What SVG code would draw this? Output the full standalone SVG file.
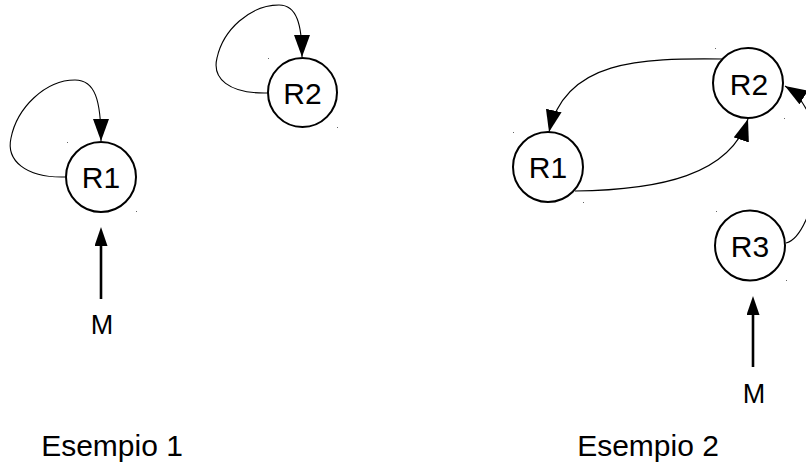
<svg xmlns="http://www.w3.org/2000/svg" width="806" height="465" viewBox="0 0 806 465">
<style>
.node circle{fill:#fff;stroke:#000;stroke-width:2}
.lbl{font-family:"Liberation Sans",Arial,sans-serif;font-size:30px;fill:#000;text-anchor:middle}
.edge{fill:none;stroke:#000;stroke-width:1.1}
.thick{fill:none;stroke:#000;stroke-width:2.6}
.dot{fill:#666}
</style>
<defs>
<marker id="ah" markerUnits="userSpaceOnUse" markerWidth="24" markerHeight="18" refX="22" refY="8" orient="auto">
<path d="M0,0 L22,8 L0,16 z" fill="#000"/>
</marker>
<marker id="ahb" markerUnits="userSpaceOnUse" markerWidth="20" markerHeight="14" refX="0" refY="6.5" orient="auto">
<path d="M0,0 L19,6.5 L0,13 z" fill="#000"/>
</marker>
</defs>
<g id="connectors">
<path class="edge" d="M65 177 C25 178 6 160 11 138 C17 108 45 80 75 80 C95 80 101 100 101 141" marker-end="url(#ah)"/>
<path class="edge" d="M268 93 C228 94 212 78 217 58 C223 30 250 5 279 5 C297 5 302 25 302 57" marker-end="url(#ah)"/>
<path class="edge" d="M723 59 C640 58 565 60 549 132" marker-end="url(#ah)"/>
<path class="edge" d="M575 191 C660 190 730 175 748 119" marker-end="url(#ah)"/>
<path class="edge" d="M786 243 C815 236 840 120 785 86" marker-end="url(#ah)"/>
<path class="thick" d="M101 299 L101 246" marker-end="url(#ahb)"/>
<path class="thick" d="M753 367 L753 315" marker-end="url(#ahb)"/>
</g>
<g id="ex1-R1" class="node"><circle cx="101" cy="177" r="35"/><text class="lbl" x="101" y="187.5">R1</text></g>
<g id="ex1-R2" class="node"><circle cx="302.5" cy="92.5" r="34.5"/><text class="lbl" x="302.5" y="103.5">R2</text></g>
<g id="ex2-R1" class="node"><circle cx="548" cy="167" r="35"/><text class="lbl" x="548" y="178">R1</text></g>
<g id="ex2-R2" class="node"><circle cx="748" cy="83" r="35"/><text class="lbl" x="749" y="95">R2</text></g>
<g id="ex2-R3" class="node"><circle cx="750" cy="245.5" r="35"/><text class="lbl" x="750" y="257">R3</text></g>
<g id="ex1-M"><text class="lbl" x="102" y="333.5" style="font-size:27px">M</text></g>
<g id="ex2-M"><text class="lbl" x="754" y="402.5" style="font-size:27px">M</text></g>
<g id="titles">
<text class="lbl" x="112" y="456">Esempio 1</text>
<text class="lbl" x="648" y="456">Esempio 2</text>
</g>
<g id="marks">
<rect class="dot" x="67" y="142" width="1" height="1"/>
<rect class="dot" x="136" y="211" width="1" height="1"/>
<rect class="dot" x="268" y="58" width="1" height="1"/>
<rect class="dot" x="337" y="127" width="1" height="1"/>
<rect class="dot" x="513" y="132" width="1" height="1"/>
<rect class="dot" x="583" y="202" width="1" height="1"/>
<rect class="dot" x="715" y="48" width="1" height="1"/>
<rect class="dot" x="784" y="118" width="1" height="1"/>
<rect class="dot" x="716" y="211" width="1" height="1"/>
<rect class="dot" x="786" y="280" width="1" height="1"/>
</g>
</svg>
